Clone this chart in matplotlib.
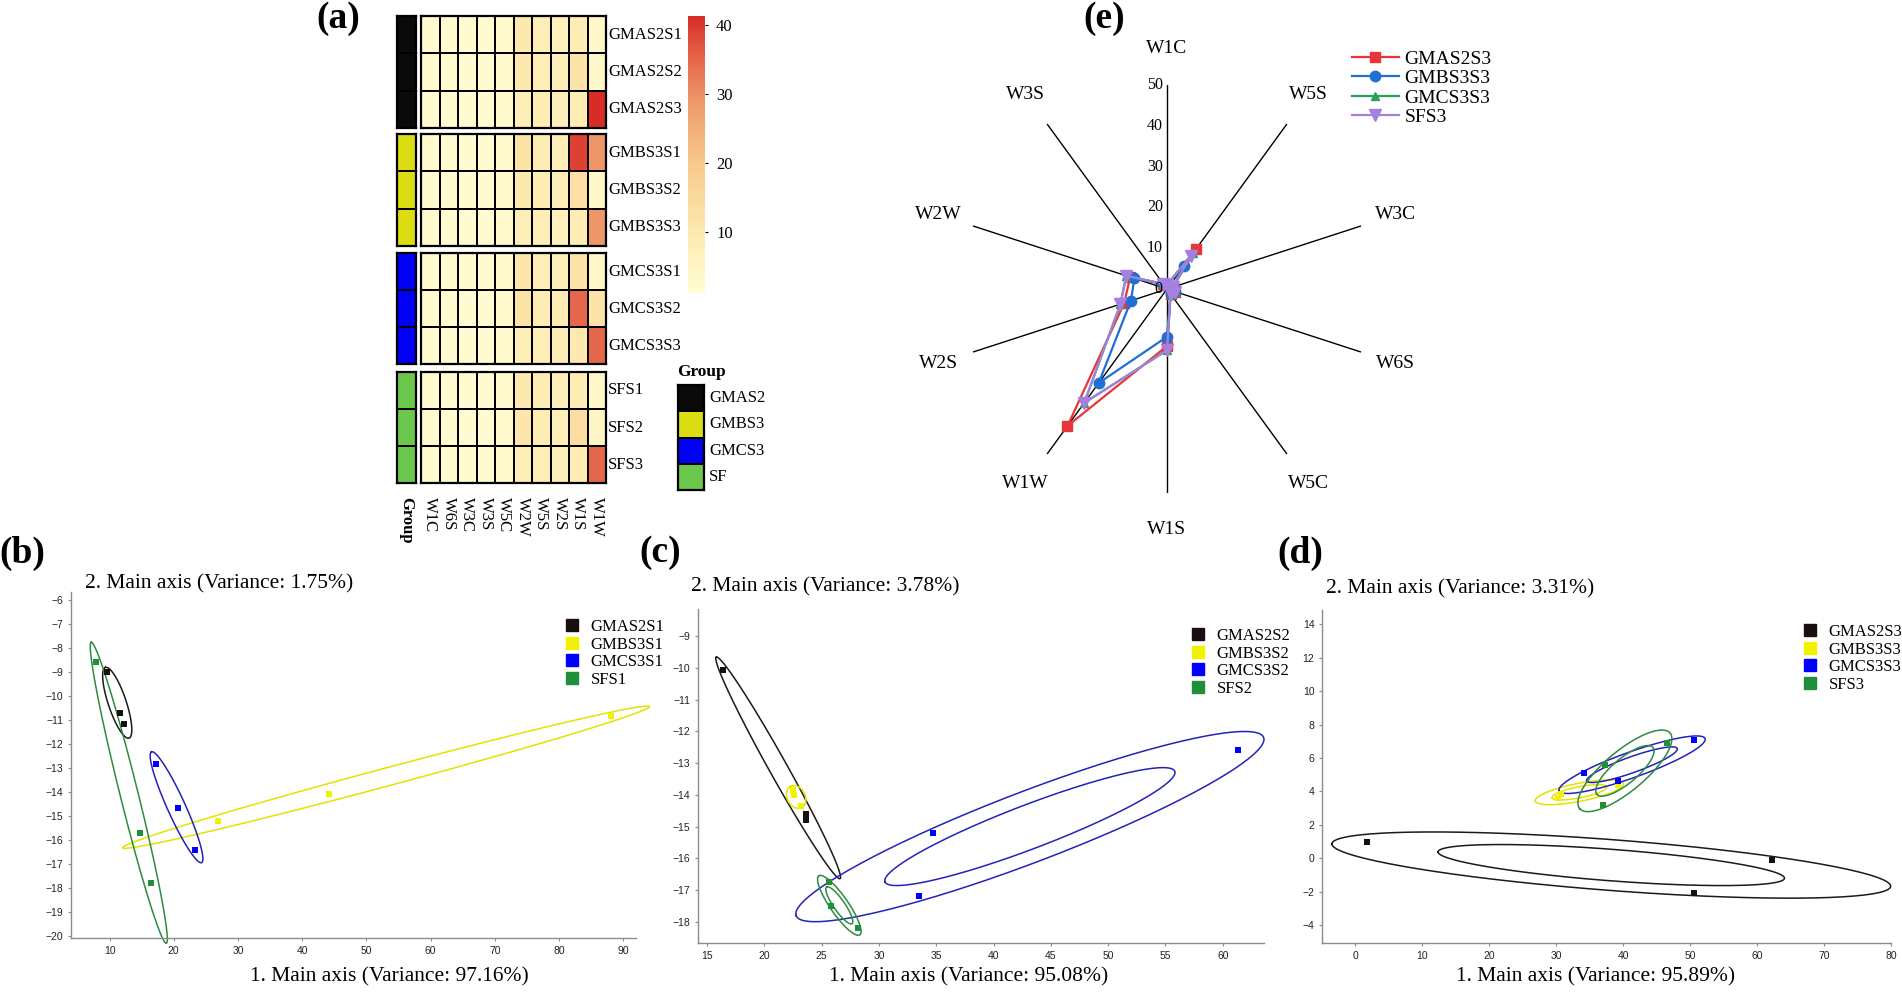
import numpy as np
import matplotlib
matplotlib.use("Agg")
import matplotlib.pyplot as plt
from matplotlib.colors import LinearSegmentedColormap, ListedColormap, Normalize
from matplotlib.cm import ScalarMappable
from matplotlib.lines import Line2D
from matplotlib.transforms import offset_copy

plt.rcParams['font.family'] = ['Liberation Serif', 'DejaVu Serif']

# ---------------- data ----------------
# (a) heatmap
heat_sensors = ['W1C', 'W6S', 'W3C', 'W3S', 'W5C', 'W2W', 'W5S', 'W2S', 'W1S', 'W1W']
heat_samples = ['GMAS2S1', 'GMAS2S2', 'GMAS2S3', 'GMBS3S1', 'GMBS3S2', 'GMBS3S3',
                'GMCS3S1', 'GMCS3S2', 'GMCS3S3', 'SFS1', 'SFS2', 'SFS3']
heat_values = [
    [3, 2.5, 2.5, 2.5, 3, 10, 8, 7, 9, 4],
    [3, 2.5, 2.5, 2.5, 3, 10, 8, 8, 12, 4],
    [3, 2.5, 2.5, 2.5, 3, 8, 9, 8, 9, 41],
    [3, 2.5, 2.5, 2.5, 3, 12, 9, 8, 39, 29],
    [3, 2.5, 2.5, 2.5, 3, 10, 9, 8, 13, 4],
    [3, 2.5, 2.5, 2.5, 3, 8, 8, 7, 9, 29],
    [3, 2.5, 2.5, 2.5, 3, 11, 8, 8, 12, 4],
    [3, 2.5, 2.5, 2.5, 3, 12, 9, 9, 35, 12],
    [3, 2.5, 2.5, 2.5, 3, 8, 8, 9, 10, 35],
    [3, 2.5, 2.5, 2.5, 3, 10, 9, 8, 9, 4],
    [3, 2.5, 2.5, 2.5, 3, 11, 9, 8, 14, 5],
    [3, 2.5, 2.5, 2.5, 3, 8, 8, 8, 9, 35],
]
group_names = ['GMAS2', 'GMBS3', 'GMCS3', 'SF']
sample_group = [0, 0, 0, 1, 1, 1, 2, 2, 2, 3, 3, 3]
colorbar_ticks = [10, 20, 30, 40]

# (b) PCA S1
b_labels = ['GMAS2S1', 'GMBS3S1', 'GMCS3S1', 'SFS1']
b_x = [[9.6, 11.7, 12.3], [26.9, 44.2, 88.1], [17.3, 20.7, 23.3], [7.9, 14.7, 16.4]]
b_y = [[-9.0, -10.7, -11.15], [-15.2, -14.1, -10.85], [-12.85, -14.65, -16.4], [-8.6, -15.7, -17.8]]
b_var = (97.16, 1.75)

# (c) PCA S2
c_labels = ['GMAS2S2', 'GMBS3S2', 'GMCS3S2', 'SFS2']
c_x = [[16.4, 23.6, 23.6], [22.5, 22.6, 23.2], [34.7, 33.5, 61.3], [25.6, 25.8, 28.2]]
c_y = [[-10.05, -14.6, -14.8], [-13.85, -14.0, -14.35], [-15.2, -17.2, -12.6], [-16.75, -17.5, -18.2]]
c_var = (95.08, 3.78)

# (d) PCA S3
d_labels = ['GMAS2S3', 'GMBS3S3', 'GMCS3S3', 'SFS3']
d_x = [[1.8, 62.3, 50.6], [30.3, 30.8, 39.3], [34.2, 39.2, 50.6], [37.3, 46.5, 37.0]]
d_y = [[0.95, -0.1, -2.05], [3.6, 3.85, 4.4], [5.1, 4.6, 7.1], [5.6, 6.9, 3.2]]
d_var = (95.89, 3.31)

# (e) radar
radar_axes = ['W1C', 'W5S', 'W3C', 'W6S', 'W5C', 'W1S', 'W1W', 'W2S', 'W2W', 'W3S']
radar_names = ['GMAS2S3', 'GMBS3S3', 'GMCS3S3', 'SFS3']
radar_values = [
    [1.0, 12.0, 1.5, 2.0, 1.5, 14.0, 41.5, 11.0, 9.5, 1.5],
    [1.0, 7.0, 1.5, 2.0, 1.5, 11.7, 28.5, 9.3, 8.4, 1.5],
    [1.0, 11.0, 1.5, 2.0, 1.5, 15.0, 34.5, 12.0, 10.5, 1.5],
    [1.0, 10.0, 1.5, 2.0, 1.5, 15.0, 34.5, 12.0, 10.5, 1.5],
]
radar_ticks = [0, 10, 20, 30, 40, 50]

# ---------------- figure ----------------
W, H = 1902, 996
fig = plt.figure(figsize=(W / 100, H / 100), dpi=100)


def fx(x):
    return x / W


def fy(y):
    return 1 - y / H


def px_axes(x0, y0, x1, y1, **kw):
    return fig.add_axes([x0 / W, 1 - y1 / H, (x1 - x0) / W, (y1 - y0) / H], **kw)


def panel_label(x, y, s):
    fig.text(fx(x), fy(y), s, fontsize=27, fontweight='bold', ha='center', va='center')


# ---- (a) heatmap ----
heat_cmap = LinearSegmentedColormap.from_list(
    'heat', [(0, '#FFFDD4'), (0.2, '#FDEBB2'), (0.45, '#F8CC8E'),
             (0.68, '#EE9C6C'), (0.85, '#E5654A'), (1.0, '#D82C26')])
hnorm = Normalize(1.2, 41.3)
group_cmap = ListedColormap(['#0A0A0A', '#DCDC14', '#0000F5', '#6CC84C'])

blocks = [(16, 128), (134, 246), (253, 364), (372, 483)]
for b, (y0, y1) in enumerate(blocks):
    rows = slice(b * 3, b * 3 + 3)
    ax = px_axes(421, y0, 606, y1)
    ax.pcolormesh(np.array(heat_values[rows]), cmap=heat_cmap, norm=hnorm,
                  edgecolors='black', linewidth=1.3)
    ax.set_ylim(3, 0)
    ax.set_xticks([])
    ax.set_yticks([])
    for s in ax.spines.values():
        s.set_linewidth(1.6)
    gax = px_axes(397, y0, 416, y1)
    gax.pcolormesh(np.array(sample_group[rows]).reshape(3, 1), cmap=group_cmap,
                   vmin=-0.5, vmax=3.5, edgecolors='black', linewidth=1.3)
    gax.set_ylim(3, 0)
    gax.set_xticks([])
    gax.set_yticks([])
    for s in gax.spines.values():
        s.set_linewidth(1.6)
    for r, name in enumerate(heat_samples[rows]):
        fig.text(fx(608), fy(y0 + (r + 0.5) * (y1 - y0) / 3), name,
                 fontsize=12, ha='left', va='center')

for i, s in enumerate(heat_sensors):
    fig.text(fx(421 + 18.5 * (i + 0.5)), fy(497), s, rotation=270,
             ha='center', va='top', fontsize=12)
fig.text(fx(406.5), fy(497), 'Group', rotation=270, ha='center', va='top',
         fontsize=12, fontweight='bold')

cax = px_axes(688, 16, 705, 293)
cb = fig.colorbar(ScalarMappable(norm=hnorm, cmap=heat_cmap), cax=cax, ticks=colorbar_ticks)
cb.outline.set_visible(False)
cax.tick_params(length=2, labelsize=12, pad=6)

lax = px_axes(678, 385, 704, 490)
lax.pcolormesh(np.arange(len(group_names)).reshape(-1, 1), cmap=group_cmap,
               vmin=-0.5, vmax=3.5, edgecolors='black', linewidth=1.3)
lax.set_ylim(len(group_names), 0)
lax.set_xticks([])
lax.set_yticks([])
for s in lax.spines.values():
    s.set_linewidth(1.6)
fig.text(fx(677), fy(372), 'Group', fontsize=12.5, fontweight='bold', ha='left', va='center')
for i, g in enumerate(group_names):
    fig.text(fx(709), fy(385 + (i + 0.5) * 26.25), g, fontsize=12, ha='left', va='center')

panel_label(338, 18, '(a)')

# ---- PCA panels ----
pt_colors = ['#1A0F0F', '#F2F200', '#0000FF', '#1F8F3A']
el_colors = ['#1A1A1A', '#E3E300', '#2323B8', '#2E8B3E']
K_OUT = 1.3
MIN_HALF = 9  # px, keeps thin ellipses visible


def conf_ellipse(ax, xs, ys, k, color, floor):
    # ellipse built in screen space, then mapped back to data coordinates
    P = ax.transData.transform(np.column_stack([xs, ys]))
    mu = P.mean(axis=0)
    vals, vecs = np.linalg.eigh(np.cov(P.T))
    vals = np.clip(vals, 0, None)
    a = k * np.sqrt(vals[1])
    b = max(k * np.sqrt(vals[0]), floor)
    t = np.linspace(0, 2 * np.pi, 240)
    ring = mu + np.outer(a * np.cos(t), vecs[:, 1]) + np.outer(b * np.sin(t), vecs[:, 0])
    D = ax.transData.inverted().transform(ring)
    ax.plot(D[:, 0], D[:, 1], color=color, linewidth=1.1, clip_on=False)


def pca_panel(box, xs, ys, labels, var, xlim, ylim, xticks, yticks, inner,
              title_xy, xlabel_x, leg_xy, lab_xy, lab):
    ax = px_axes(*box)
    ax.set_xlim(*xlim)
    ax.set_ylim(*ylim)
    for i in range(4):
        conf_ellipse(ax, xs[i], ys[i], K_OUT, el_colors[i], MIN_HALF)
        if inner[i]:
            conf_ellipse(ax, xs[i], ys[i], K_OUT * 0.62, el_colors[i], MIN_HALF * 0.62)
        ax.scatter(xs[i], ys[i], marker='s', s=16, color=pt_colors[i], zorder=3, linewidths=0)
    ax.set_xlim(*xlim)
    ax.set_ylim(*ylim)
    ax.set_xticks(xticks)
    ax.set_yticks(yticks)
    for s in ['top', 'right']:
        ax.spines[s].set_visible(False)
    for s in ['left', 'bottom']:
        ax.spines[s].set_color('#8C8C8C')
        ax.spines[s].set_linewidth(1.0)
    ax.tick_params(length=2.5, width=0.8, color='#8C8C8C', labelsize=7.5,
                   labelcolor='#222222', pad=3)
    for t in ax.get_xticklabels() + ax.get_yticklabels():
        t.set_family(['Liberation Sans', 'DejaVu Sans'])
    fig.text(fx(title_xy[0]), fy(title_xy[1]), '2. Main axis (Variance: %.2f%%)' % var[1],
             fontsize=15.5, ha='left', va='center')
    fig.text(fx(xlabel_x), fy(977), '1. Main axis (Variance: %.2f%%)' % var[0],
             fontsize=15.5, ha='center', va='center')
    handles = [Line2D([], [], marker='s', ls='none', color=c, markersize=8) for c in pt_colors]
    fig.legend(handles, labels, loc='upper left', bbox_to_anchor=(fx(leg_xy[0]), fy(leg_xy[1])),
               frameon=False, fontsize=12, handlelength=1, handletextpad=0.6,
               labelspacing=0.1, borderpad=0, borderaxespad=0)
    panel_label(lab_xy[0], lab_xy[1], lab)


pca_panel((71, 592, 636, 938), b_x, b_y, b_labels, b_var, (4, 92), (-20.08, -5.67),
          range(10, 91, 10), range(-20, -5), [False] * 4,
          (85, 584), 389, (564, 619), (22, 553), '(b)')
pca_panel((698, 609, 1264, 943), c_x, c_y, c_labels, c_var, (14.2, 63.6), (-18.67, -8.14),
          range(15, 61, 5), range(-18, -8), [False, False, True, True],
          (691, 587), 969, (1190, 628), (660, 553), '(c)')
pca_panel((1322, 610, 1891, 943), d_x, d_y, d_labels, d_var, (-4.96, 80), (-5.06, 14.85),
          range(0, 81, 10), range(-4, 15, 2), [True, True, True, True],
          (1326, 589), 1596, (1802, 624), (1300, 553), '(d)')

# ---- (e) radar ----
pax = px_axes(963, 85, 1371, 493, projection='polar')
pax.patch.set_visible(False)
pax.set_theta_zero_location('N')
pax.set_theta_direction(-1)
theta = np.linspace(0, 2 * np.pi, len(radar_axes), endpoint=False)
pax.set_xticks(theta)
pax.set_xticklabels([])
pax.xaxis.grid(True, color='black', linewidth=1.0)
pax.yaxis.grid(False)
pax.set_yticks([])
pax.set_ylim(0, 50)
pax.spines['polar'].set_visible(False)
for t, name in zip(theta, radar_axes):
    pax.text(t, 59, name, fontsize=14, ha='center', va='center', clip_on=False)
lab_tr = offset_copy(pax.transData, fig=fig, x=-3, y=0, units='points')
for r in radar_ticks:
    pax.text(0, r, str(r), fontsize=11.5, ha='right', va='center', transform=lab_tr)

radar_styles = [('#E8353A', 's', 6.5), ('#1F6FD6', 'o', 7.5),
                ('#2AA05A', '^', 5.5), ('#A77FE0', 'v', 8)]
tc = np.append(theta, theta[0])
for vals, name, (c, m, ms) in zip(radar_values, radar_names, radar_styles):
    v = np.append(vals, vals[0])
    pax.plot(tc, v, color=c, marker=m, markersize=ms, linewidth=1.6, label=name, clip_on=False)
pax.legend(loc='upper left', bbox_to_anchor=(fx(1352), fy(50)), bbox_transform=fig.transFigure,
           frameon=False, fontsize=14, handlelength=2.4, handletextpad=0.3,
           labelspacing=0.1, borderpad=0, borderaxespad=0)
panel_label(1104, 18, '(e)')

fig.savefig('out.png', dpi=100)
